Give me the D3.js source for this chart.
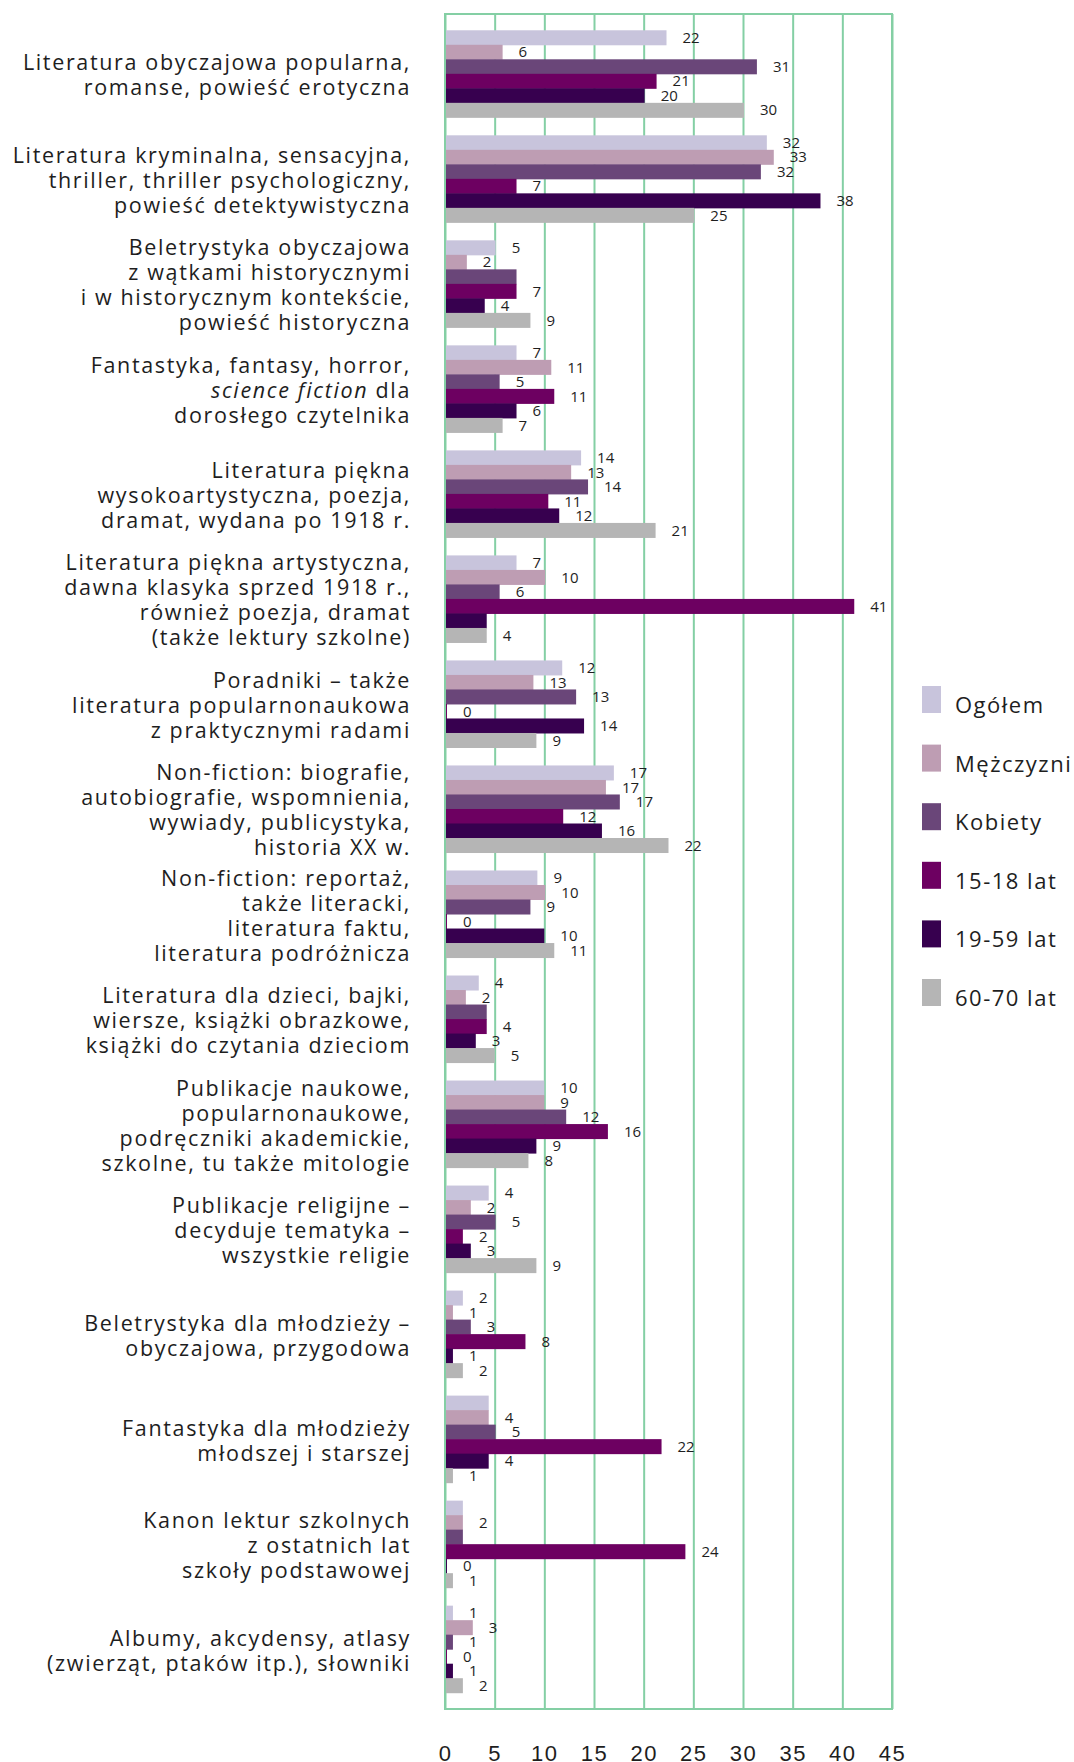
<!DOCTYPE html>
<html>
<head>
<meta charset="utf-8">
<script src="https://cdn.jsdelivr.net/npm/d3@7/dist/d3.min.js"></script>
<style>
  body { margin: 0; background: #fff; }
  svg { display: block; font-family: 'Open Sans', sans-serif; }
</style>
</head>
<body>
<div id="chart-area"></div>
<script>
// categories (each one split into its printed lines, *...* = italic)
const categories = [
  ['Literatura obyczajowa popularna,', 'romanse, powieść erotyczna'],
  ['Literatura kryminalna, sensacyjna,', 'thriller, thriller psychologiczny,', 'powieść detektywistyczna'],
  ['Beletrystyka obyczajowa', 'z wątkami historycznymi', 'i w historycznym kontekście,', 'powieść historyczna'],
  ['Fantastyka, fantasy, horror,', '*science fiction* dla', 'dorosłego czytelnika'],
  ['Literatura piękna', 'wysokoartystyczna, poezja,', 'dramat, wydana po 1918 r.'],
  ['Literatura piękna artystyczna,', 'dawna klasyka sprzed 1918 r.,', 'również poezja, dramat', '(także lektury szkolne)'],
  ['Poradniki – także', 'literatura popularnonaukowa', 'z praktycznymi radami'],
  ['Non-fiction: biografie,', 'autobiografie, wspomnienia,', 'wywiady, publicystyka,', 'historia XX w.'],
  ['Non-fiction: reportaż,', 'także literacki,', 'literatura faktu,', 'literatura podróżnicza'],
  ['Literatura dla dzieci, bajki,', 'wiersze, książki obrazkowe,', 'książki do czytania dzieciom'],
  ['Publikacje naukowe,', 'popularnonaukowe,', 'podręczniki akademickie,', 'szkolne, tu także mitologie'],
  ['Publikacje religijne –', 'decyduje tematyka –', 'wszystkie religie'],
  ['Beletrystyka dla młodzieży –', 'obyczajowa, przygodowa'],
  ['Fantastyka dla młodzieży', 'młodszej i starszej'],
  ['Kanon lektur szkolnych', 'z ostatnich lat', 'szkoły podstawowej'],
  ['Albumy, akcydensy, atlasy', '(zwierząt, ptaków itp.), słowniki'],
];

const seriesNames = ['Ogółem', 'Mężczyzni', 'Kobiety', '15-18 lat', '19-59 lat', '60-70 lat'];
const seriesColors = ['#c8c4dc', '#be9db3', '#6a4679', '#6d0061', '#37004f', '#b5b5b5'];

// bar lengths (%), as drawn
const ogolem    = [22.3, 32.4, 5.1, 7.2, 13.7, 7.2, 11.8, 17.0, 9.3, 3.4, 10.0, 4.4, 1.8, 4.4, 1.8, 0.8];
const mezczyzni = [5.8, 33.1, 2.2, 10.7, 12.7, 10.1, 8.9, 16.2, 10.1, 2.1, 10.0, 2.6, 0.8, 4.4, 1.8, 2.8];
const kobiety   = [31.4, 31.8, 7.2, 5.5, 14.4, 5.5, 13.2, 17.6, 8.6, 4.2, 12.2, 5.1, 2.6, 5.1, 1.8, 0.8];
const lat15_18  = [21.3, 7.2, 7.2, 11.0, 10.4, 41.2, 0.2, 11.9, 0.2, 4.2, 16.4, 1.8, 8.1, 21.8, 24.2, 0.2];
const lat19_59  = [20.1, 37.8, 4.0, 7.2, 11.5, 4.2, 14.0, 15.8, 10.0, 3.1, 9.2, 2.6, 0.8, 4.4, 0.2, 0.8];
const lat60_70  = [30.1, 25.1, 8.6, 5.8, 21.2, 4.2, 9.2, 22.5, 11.0, 5.0, 8.4, 9.2, 1.8, 0.8, 0.8, 1.8];

// value labels as printed (null = not shown)
const ogolemLab    = [22, 32, 5, 7, 14, 7, 12, 17, 9, 4, 10, 4, 2, null, null, 1];
const mezczyzniLab = [6, 33, 2, 11, 13, 10, 13, 17, 10, 2, 9, 2, 1, 4, 2, 3];
const kobietyLab   = [31, 32, null, 5, 14, 6, 13, 17, 9, null, 12, 5, 3, 5, null, 1];
const lat15_18Lab  = [21, 7, 7, 11, 11, 41, 0, 12, 0, 4, 16, 2, 8, 22, 24, 0];
const lat19_59Lab  = [20, 38, 4, 6, 12, null, 14, 16, 10, 3, 9, 3, 1, 4, 0, 1];
const lat60_70Lab  = [30, 25, 9, 7, 21, 4, 9, 22, 11, 5, 8, 9, 2, 1, 1, 2];

const xTicks = [0, 5, 10, 15, 20, 25, 30, 35, 40, 45];

const seriesValues = [ogolem, mezczyzni, kobiety, lat15_18, lat19_59, lat60_70];
const seriesLabels = [ogolemLab, mezczyzniLab, kobietyLab, lat15_18Lab, lat19_59Lab, lat60_70Lab];

let width = 1074;
let height = 1762;
let plot = { left: 445, right: 892, top: 14, bottom: 1709 };
let gridColor = '#84cfa4';
let textColor = '#1e1e1e';

let svg = d3
  .select('#chart-area')
  .append('svg')
  .attr('width', width)
  .attr('height', height);

let keys = categories.map((lines) => lines.join(' '));

let x = d3.scaleLinear().domain([0, 45]).range([plot.left, plot.right]);

let y = d3
  .scaleBand()
  .domain(keys)
  .range([plot.top, plot.bottom])
  .paddingInner(0.171)
  .paddingOuter(0.155);

let ySub = d3.scaleBand().domain(seriesNames).range([0, y.bandwidth()]);

//grid (vertical lines) + tick labels
let xAxis = svg
  .append('g')
  .attr('transform', `translate(0, ${plot.bottom})`)
  .call(
    d3.axisBottom(x)
      .tickValues(xTicks)
      .tickSize(-(plot.bottom - plot.top))
      .tickPadding(36)
  );
xAxis.select('.domain').remove();
xAxis.selectAll('.tick line').attr('stroke', gridColor).attr('stroke-width', 2);
xAxis
  .selectAll('.tick text')
  .attr('fill', textColor)
  .attr('dy', '0.71em')
  .style('font-size', '22px')
  .style('letter-spacing', '1.5px');

//frame
svg
  .append('rect')
  .attr('x', x(0))
  .attr('y', plot.top)
  .attr('width', x(45) - x(0))
  .attr('height', plot.bottom - plot.top)
  .attr('fill', 'none')
  .attr('stroke', gridColor)
  .attr('stroke-width', 2);

//bars
let rows = [];
categories.forEach((lines, ci) => {
  seriesNames.forEach((s, si) => {
    rows.push({
      cat: keys[ci],
      series: s,
      color: seriesColors[si],
      value: seriesValues[si][ci],
      label: seriesLabels[si][ci],
    });
  });
});

svg
  .append('g')
  .selectAll('rect')
  .data(rows)
  .enter()
  .append('rect')
  .attr('x', x(0) + 1)
  .attr('y', (d) => y(d.cat) + ySub(d.series))
  .attr('width', (d) => Math.max(0, x(d.value) - x(0) - 1))
  .attr('height', ySub.bandwidth() + 0.5)
  .attr('fill', (d) => d.color);

//value labels
svg
  .append('g')
  .selectAll('text')
  .data(rows.filter((d) => d.label !== null))
  .enter()
  .append('text')
  .attr('x', (d) => x(d.value) + 16)
  .attr('y', (d) => y(d.cat) + ySub(d.series) + ySub.bandwidth() / 2)
  .attr('dy', '0.36em')
  .attr('fill', textColor)
  .style('font-size', '15px')
  .text((d) => d.label);

//category labels
let lineHeight = 25;
svg
  .append('g')
  .selectAll('text')
  .data(categories)
  .enter()
  .append('text')
  .attr('text-anchor', 'end')
  .attr('fill', textColor)
  .style('font-size', '21.5px')
  .style('letter-spacing', '1.65px')
  .each(function (lines, ci) {
    let t = d3.select(this);
    let center = y(keys[ci]) + y.bandwidth() / 2 + 9;
    lines.forEach((line, li) => {
      let lineY = center + (li - (lines.length - 1) / 2) * lineHeight;
      let first = true;
      line.split('*').forEach((part, pi) => {
        if (!part) return;
        let ts = t.append('tspan').text(part);
        if (first) ts.attr('x', 411).attr('y', lineY);
        if (pi % 2 === 1) ts.style('font-style', 'italic');
        first = false;
      });
    });
  });

//legend
let legend = svg
  .append('g')
  .selectAll('g')
  .data(seriesNames)
  .enter()
  .append('g')
  .attr('transform', (d, i) => `translate(922, ${686 + i * 58.6})`);

legend
  .append('rect')
  .attr('width', 19)
  .attr('height', 27)
  .attr('fill', (d, i) => seriesColors[i]);

legend
  .append('text')
  .attr('x', 33)
  .attr('y', 27)
  .attr('fill', textColor)
  .style('font-size', '22px')
  .style('letter-spacing', '1.5px')
  .text((d) => d);
</script>
</body>
</html>
